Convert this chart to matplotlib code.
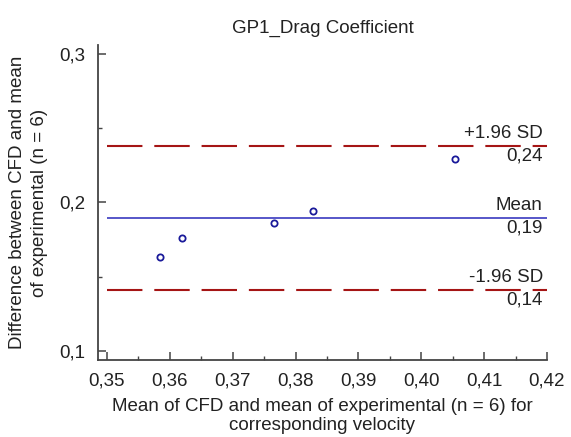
import numpy as np
import matplotlib
matplotlib.use("Agg")
import matplotlib.pyplot as plt
from matplotlib.ticker import FuncFormatter, MultipleLocator

matplotlib.rcParams['font.family'] = ['Liberation Sans', 'DejaVu Sans']

# Bland-Altman data
mean_vals = [0.3584, 0.3619, 0.3765, 0.3827, 0.4054]
diff_vals = [0.1630, 0.1758, 0.1859, 0.1939, 0.2290]
mean_diff = 0.1892
upper_loa = 0.2377
lower_loa = 0.1407
line_names = ["+1.96 SD", "Mean", "-1.96 SD"]
line_labels = ["0,24", "0,19", "0,14"]

fs = 12.5
fl = 13.5
txt = '#222222'
fig = plt.figure(figsize=(5.71, 4.37), dpi=100)
ax = fig.add_axes([0.1716, 0.1762, 0.7863, 0.7208])

x0, x1 = 0.35, 0.42
ax.hlines(mean_diff, x0, x1, color='#3a3ac0', linewidth=1.2)
for y in (upper_loa, lower_loa):
    ax.plot([x0, x1], [y, y], color='#a51515', linewidth=1.5, dashes=(17, 5.7))

ax.plot(mean_vals, diff_vals, 'o', markerfacecolor='none', markeredgecolor='#1a1a9a',
        markersize=4.5, markeredgewidth=1.3, linestyle='none')

for y, name, lab in zip([upper_loa, mean_diff, lower_loa], line_names, line_labels):
    ax.annotate(name, (x1, y), xytext=(-3, 3), textcoords='offset points',
                ha='right', va='bottom', fontsize=fl, color=txt)
    ax.annotate(lab, (x1, y), xytext=(-3, -1), textcoords='offset points',
                ha='right', va='top', fontsize=fl, color=txt)

ax.set_xlim(0.34857, 0.42)
ax.set_ylim(0.0939, 0.306)
ax.xaxis.set_major_locator(MultipleLocator(0.01))
ax.xaxis.set_minor_locator(MultipleLocator(0.005))
ax.yaxis.set_major_locator(MultipleLocator(0.1))
ax.yaxis.set_minor_locator(MultipleLocator(0.05))
ax.xaxis.set_major_formatter(FuncFormatter(lambda v, p: ('%.2f' % v).replace('.', ',')))
ax.yaxis.set_major_formatter(FuncFormatter(lambda v, p: ('%.1f' % v).replace('.', ',')))

for s in ('top', 'right'):
    ax.spines[s].set_visible(False)
for s in ('left', 'bottom'):
    ax.spines[s].set_color('#444444')
    ax.spines[s].set_linewidth(1.3)
ax.tick_params(which='major', direction='in', length=5.8, width=1.1, color='#444444',
               labelsize=fl, labelcolor=txt)
ax.tick_params(axis='x', which='major', pad=9)
ax.tick_params(axis='y', which='major', pad=9)
ax.tick_params(which='minor', direction='in', length=3, width=1.0, color='#444444')

ax.set_title('GP1_Drag Coefficient', fontsize=fl, color=txt, pad=9)
ax.set_xlabel('Mean of CFD and mean of experimental (n = 6) for\ncorresponding velocity',
              fontsize=fl, color=txt, labelpad=6, linespacing=1.2)
ax.set_ylabel('Difference between CFD and mean\nof experimental (n = 6)',
              fontsize=fl, color=txt, labelpad=8, linespacing=1.4)

fig.savefig('out.png', dpi=100)
